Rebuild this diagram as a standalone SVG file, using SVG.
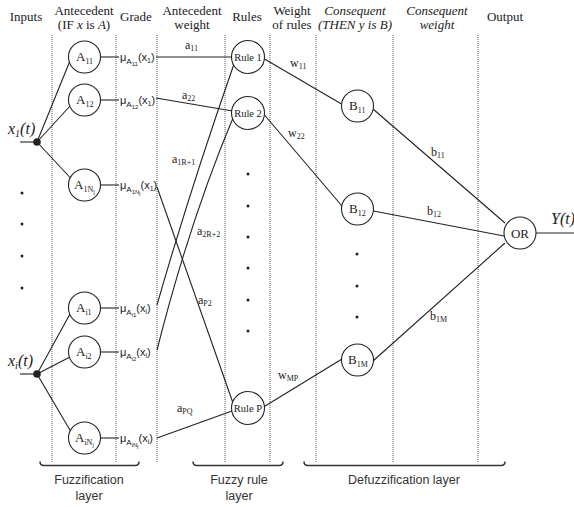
<svg xmlns="http://www.w3.org/2000/svg" width="574" height="507" viewBox="0 0 574 507">
  <style>
    .hd { font-family: "Liberation Serif", "Times New Roman", serif; font-size: 13px; fill: #222; text-anchor: middle; }
    .it { font-style: italic; }
    .sep { stroke: #555; stroke-width: 1; stroke-dasharray: 1 1; fill: none; }
    .node { fill: #fff; stroke: #222; stroke-width: 1.1; }
    .lbl { font-family: "Liberation Serif", "Times New Roman", serif; font-size: 13px; fill: #222; }
    .rule { font-family: "Liberation Serif", "Times New Roman", serif; font-size: 10.5px; fill: #222; text-anchor: middle; }
    .mu { font-family: "Liberation Sans", Arial, sans-serif; font-size: 11px; fill: #222; }
    .wt { font-family: "Liberation Serif", "Times New Roman", serif; font-size: 12px; fill: #222; }
    .io { font-family: "Liberation Serif", "Times New Roman", serif; font-size: 16px; font-style: italic; fill: #222; }
    .edge { stroke: #222; stroke-width: 1.1; fill: none; }
    .dot { fill: #222; }
    .brace { stroke: #333; stroke-width: 1.5; fill: none; }
    .layer { font-family: "Liberation Sans", Arial, sans-serif; font-size: 12.5px; fill: #333; text-anchor: middle; }
  </style>

  <!-- column headers -->
  <g id="headers">
    <text class="hd" x="26" y="21">Inputs</text>
    <text class="hd" x="84" y="15">Antecedent</text>
    <text class="hd" x="84" y="29">(IF <tspan class="it">x</tspan> is <tspan class="it">A</tspan>)</text>
    <text class="hd" x="136" y="21">Grade</text>
    <text class="hd" x="192" y="15">Antecedent</text>
    <text class="hd" x="192" y="29">weight</text>
    <text class="hd" x="247" y="21">Rules</text>
    <text class="hd" x="292" y="15">Weight</text>
    <text class="hd" x="292" y="29">of rules</text>
    <text class="hd it" x="355" y="15">Consequent</text>
    <text class="hd it" x="355" y="29">(THEN y is B)</text>
    <text class="hd it" x="437" y="15">Consequent</text>
    <text class="hd it" x="437" y="29">weight</text>
    <text class="hd" x="505" y="21">Output</text>
  </g>

  <!-- column separators -->
  <g id="separators">
    <line class="sep" x1="52" y1="35" x2="52" y2="462"/>
    <line class="sep" x1="116" y1="35" x2="116" y2="462"/>
    <line class="sep" x1="157" y1="35" x2="157" y2="462"/>
    <line class="sep" x1="225" y1="35" x2="225" y2="462"/>
    <line class="sep" x1="270" y1="35" x2="270" y2="462"/>
    <line class="sep" x1="316" y1="35" x2="316" y2="462"/>
    <line class="sep" x1="393" y1="35" x2="393" y2="462"/>
    <line class="sep" x1="478" y1="35" x2="478" y2="462"/>
  </g>

  <!-- connectors -->
  <g id="connectors">
    <!-- inputs to antecedent sets -->
    <line class="edge" x1="20" y1="142" x2="37" y2="142"/>
    <line class="edge" x1="37" y1="142" x2="69.5" y2="62"/>
    <line class="edge" x1="37" y1="142" x2="70" y2="106"/>
    <line class="edge" x1="37" y1="142" x2="70.5" y2="178"/>
    <line class="edge" x1="20" y1="374" x2="37" y2="374"/>
    <line class="edge" x1="37" y1="374" x2="70" y2="314"/>
    <line class="edge" x1="37" y1="374" x2="70" y2="357"/>
    <line class="edge" x1="37" y1="374" x2="70.5" y2="431"/>
    <!-- sets to grades -->
    <line class="edge" x1="100.5" y1="57" x2="119" y2="57"/>
    <line class="edge" x1="100.5" y1="100" x2="119" y2="100"/>
    <line class="edge" x1="100.5" y1="185" x2="119" y2="185"/>
    <line class="edge" x1="100.5" y1="308" x2="119" y2="308"/>
    <line class="edge" x1="100.5" y1="352" x2="119" y2="352"/>
    <line class="edge" x1="100.5" y1="438" x2="119" y2="438"/>
    <!-- grades to rules -->
    <line class="edge" x1="156" y1="57" x2="232" y2="57"/>
    <line class="edge" x1="156" y1="98" x2="232.5" y2="111"/>
    <line class="edge" x1="157" y1="187" x2="233" y2="403"/>
    <path class="edge" d="M157,305 Q190,190 234,64"/>
    <path class="edge" d="M157,350 Q190,220 233,118"/>
    <line class="edge" x1="157" y1="438" x2="232" y2="411"/>
    <!-- rules to consequents -->
    <line class="edge" x1="264.5" y1="59" x2="341.5" y2="104"/>
    <line class="edge" x1="264.5" y1="115" x2="342" y2="206"/>
    <line class="edge" x1="263.5" y1="407" x2="342" y2="359"/>
    <!-- consequents to output -->
    <line class="edge" x1="373" y1="109" x2="505" y2="223"/>
    <line class="edge" x1="373.5" y1="211" x2="504" y2="236"/>
    <line class="edge" x1="373" y1="361" x2="505" y2="243"/>
    <line class="edge" x1="535.5" y1="233" x2="574" y2="233"/>
  </g>

  <!-- input nodes -->
  <g id="input-1">
    <circle class="dot" cx="37" cy="142" r="3.8"/>
    <text class="io" x="8" y="134">x<tspan font-size="10" dy="3">1</tspan><tspan dy="-3">(t)</tspan></text>
  </g>
  <g id="input-i">
    <circle class="dot" cx="37" cy="374" r="3.8"/>
    <text class="io" x="8" y="366">x<tspan font-size="10" dy="3">i</tspan><tspan dy="-3">(t)</tspan></text>
  </g>
  <g id="input-dots">
    <circle class="dot" cx="22" cy="193" r="1.5"/>
    <circle class="dot" cx="22" cy="224" r="1.5"/>
    <circle class="dot" cx="22" cy="256" r="1.5"/>
    <circle class="dot" cx="22" cy="288" r="1.5"/>
  </g>

  <!-- antecedent fuzzy sets -->
  <g id="A11">
    <circle class="node" cx="84.5" cy="57" r="16"/>
    <text class="lbl" x="76" y="61">A<tspan font-size="8" dy="3">11</tspan></text>
  </g>
  <g id="A12">
    <circle class="node" cx="84.5" cy="100" r="16"/>
    <text class="lbl" x="76" y="104">A<tspan font-size="8" dy="3">12</tspan></text>
  </g>
  <g id="A1Nj">
    <circle class="node" cx="84.5" cy="185" r="16"/>
    <text class="lbl" x="74" y="189">A<tspan font-size="8" dy="3">1N</tspan><tspan font-size="6" dy="2">j</tspan></text>
  </g>
  <g id="Ai1">
    <circle class="node" cx="84.5" cy="308" r="16"/>
    <text class="lbl" x="76" y="312">A<tspan font-size="8" dy="3">i1</tspan></text>
  </g>
  <g id="Ai2">
    <circle class="node" cx="84.5" cy="352" r="16"/>
    <text class="lbl" x="76" y="356">A<tspan font-size="8" dy="3">i2</tspan></text>
  </g>
  <g id="AiNj">
    <circle class="node" cx="84.5" cy="438" r="16"/>
    <text class="lbl" x="75" y="442">A<tspan font-size="8" dy="3">iN</tspan><tspan font-size="6" dy="2">j</tspan></text>
  </g>

  <!-- membership grades -->
  <g id="grades">
    <text class="mu" x="120" y="61">μ<tspan font-size="8" dy="3">A</tspan><tspan font-size="6" dy="2">11</tspan><tspan dy="-5">(x</tspan><tspan font-size="7" dy="2">1</tspan><tspan dy="-2">)</tspan></text>
    <text class="mu" x="120" y="104">μ<tspan font-size="8" dy="3">A</tspan><tspan font-size="6" dy="2">12</tspan><tspan dy="-5">(x</tspan><tspan font-size="7" dy="2">1</tspan><tspan dy="-2">)</tspan></text>
    <text class="mu" x="120" y="189">μ<tspan font-size="8" dy="3">A</tspan><tspan font-size="6" dy="2">1N</tspan><tspan font-size="5" dy="1">j</tspan><tspan dy="-6">(x</tspan><tspan font-size="7" dy="2">1</tspan><tspan dy="-2">)</tspan></text>
    <text class="mu" x="120" y="312">μ<tspan font-size="8" dy="3">A</tspan><tspan font-size="6" dy="2">i1</tspan><tspan dy="-5">(x</tspan><tspan font-size="7" dy="2">i</tspan><tspan dy="-2">)</tspan></text>
    <text class="mu" x="120" y="356">μ<tspan font-size="8" dy="3">A</tspan><tspan font-size="6" dy="2">i2</tspan><tspan dy="-5">(x</tspan><tspan font-size="7" dy="2">i</tspan><tspan dy="-2">)</tspan></text>
    <text class="mu" x="120" y="442">μ<tspan font-size="8" dy="3">A</tspan><tspan font-size="6" dy="2">iN</tspan><tspan font-size="5" dy="1">j</tspan><tspan dy="-6">(x</tspan><tspan font-size="7" dy="2">i</tspan><tspan dy="-2">)</tspan></text>
  </g>

  <!-- antecedent weights -->
  <g id="antecedent-weights">
    <text class="wt" x="185" y="49">a<tspan font-size="8" dy="2">11</tspan></text>
    <text class="wt" x="182" y="99">a<tspan font-size="8" dy="2">22</tspan></text>
    <text class="wt" x="172" y="163">a<tspan font-size="8" dy="2">1R+1</tspan></text>
    <text class="wt" x="197" y="235">a<tspan font-size="8" dy="2">2R+2</tspan></text>
    <text class="wt" x="198" y="304">a<tspan font-size="8" dy="2">P2</tspan></text>
    <text class="wt" x="177" y="412">a<tspan font-size="8" dy="2">PQ</tspan></text>
  </g>

  <!-- rules -->
  <g id="rule-1">
    <circle class="node" cx="248" cy="57" r="16.5"/>
    <text class="rule" x="248" y="61">Rule 1</text>
  </g>
  <g id="rule-2">
    <circle class="node" cx="248" cy="113" r="16.5"/>
    <text class="rule" x="248" y="117">Rule 2</text>
  </g>
  <g id="rule-P">
    <circle class="node" cx="248" cy="408" r="16.5"/>
    <text class="rule" x="248" y="412">Rule P</text>
  </g>
  <g id="rule-dots">
    <circle class="dot" cx="248" cy="174" r="1.5"/>
    <circle class="dot" cx="248" cy="206" r="1.5"/>
    <circle class="dot" cx="248" cy="237" r="1.5"/>
    <circle class="dot" cx="248" cy="268" r="1.5"/>
    <circle class="dot" cx="248" cy="300" r="1.5"/>
    <circle class="dot" cx="248" cy="331" r="1.5"/>
  </g>

  <!-- rule weights -->
  <g id="rule-weights">
    <text class="wt" x="290" y="67">w<tspan font-size="8" dy="2">11</tspan></text>
    <text class="wt" x="288" y="137">w<tspan font-size="8" dy="2">22</tspan></text>
    <text class="wt" x="278" y="379">w<tspan font-size="8" dy="2">MP</tspan></text>
  </g>

  <!-- consequent sets -->
  <g id="B11">
    <circle class="node" cx="357.5" cy="106" r="16"/>
    <text class="lbl" x="349" y="110">B<tspan font-size="8" dy="3">11</tspan></text>
  </g>
  <g id="B12">
    <circle class="node" cx="357.5" cy="209" r="16"/>
    <text class="lbl" x="349" y="213">B<tspan font-size="8" dy="3">12</tspan></text>
  </g>
  <g id="B1M">
    <circle class="node" cx="357.5" cy="360" r="16"/>
    <text class="lbl" x="348" y="364">B<tspan font-size="8" dy="3">1M</tspan></text>
  </g>
  <g id="consequent-dots">
    <circle class="dot" cx="357" cy="254" r="1.5"/>
    <circle class="dot" cx="357" cy="286" r="1.5"/>
    <circle class="dot" cx="357" cy="317" r="1.5"/>
  </g>

  <!-- consequent weights -->
  <g id="consequent-weights">
    <text class="wt" x="431" y="156">b<tspan font-size="8" dy="2">11</tspan></text>
    <text class="wt" x="427" y="215">b<tspan font-size="8" dy="2">12</tspan></text>
    <text class="wt" x="430" y="320">b<tspan font-size="8" dy="2">1M</tspan></text>
  </g>

  <!-- output -->
  <g id="OR">
    <circle class="node" cx="520" cy="233" r="16"/>
    <text class="lbl" x="520" y="237.5" text-anchor="middle" font-size="12.5">OR</text>
  </g>
  <g id="output">
    <text class="io" x="551" y="224" font-size="15">Y(t)</text>
  </g>

  <!-- layer brackets -->
  <g id="layers">
    <path class="brace" d="M40,461.5 Q40,465.5 44,465.5 L135,465.5 Q139,465.5 139,461.5"/>
    <text class="layer" x="89" y="484">Fuzzification</text>
    <text class="layer" x="89" y="500">layer</text>
    <path class="brace" d="M193,461.5 Q193,465.5 197,465.5 L279,465.5 Q283,465.5 283,461.5"/>
    <text class="layer" x="239" y="484">Fuzzy rule</text>
    <text class="layer" x="239" y="500">layer</text>
    <path class="brace" d="M304,461.5 Q304,465.5 308,465.5 L501,465.5 Q505,465.5 505,461.5"/>
    <text class="layer" x="404" y="484">Defuzzification layer</text>
  </g>
</svg>
